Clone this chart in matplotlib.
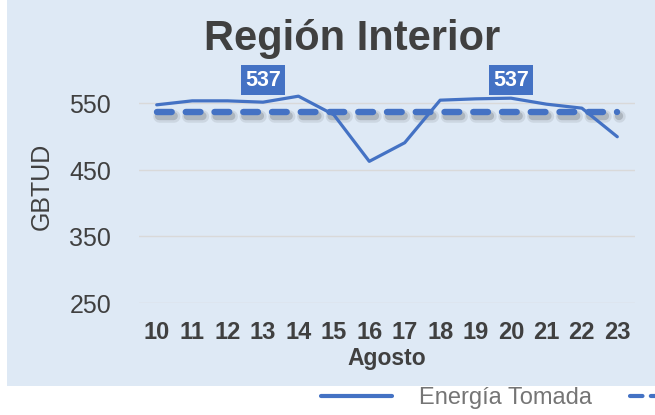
import matplotlib
matplotlib.use("Agg")
import matplotlib.pyplot as plt
import matplotlib.patheffects as pe
from matplotlib.patches import Rectangle
from matplotlib.lines import Line2D

plt.rcParams['font.family'] = ['Liberation Sans', 'DejaVu Sans']

# data
dias = [10, 11, 12, 13, 14, 15, 16, 17, 18, 19, 20, 21, 22, 23]
energia = [548, 554, 554, 552, 561, 533, 463, 491, 555, 557, 558, 549, 543, 500]
promedio = [537] * len(dias)
etiquetas_prom = [13, 20]  # days where the average gets a label

azul = "#4472c4"
gris = "#404040"

fig = plt.figure(figsize=(6.55, 4.15), dpi=100)
fig.patch.set_facecolor("white")
# light blue chart area (legend sits below it on white)
fig.patches.append(Rectangle((7 / 655, 29 / 415), 1, 1, transform=fig.transFigure,
                             facecolor="#dee9f5", edgecolor="none", zorder=-10))

ax = fig.add_axes([139 / 655, 112 / 415, 496 / 655, 266 / 415])
ax.set_facecolor("none")

l1, = ax.plot(dias, energia, color=azul, lw=2.3, solid_capstyle="round",
              label="Energía Tomada", zorder=3)
l2, = ax.plot(dias, promedio, color=azul, lw=4.6, dash_capstyle="round",
              label="Promedio", zorder=2)
l2.set_dashes([2.3, 2.2])
# soft shadow under the dashed average
l2.set_path_effects([
    pe.SimpleLineShadow(offset=(1.5, -3), shadow_color="k", alpha=0.08, linewidth=9),
    pe.SimpleLineShadow(offset=(1.5, -2.5), shadow_color="k", alpha=0.15, linewidth=6),
    pe.Normal()])

for d in etiquetas_prom:
    v = promedio[dias.index(d)]
    ax.annotate(str(v), (d, v), xytext=(0, 23), textcoords="offset points",
                ha="center", va="center", color="white", fontsize=15.5,
                fontweight="bold",
                bbox=dict(boxstyle="square,pad=0.2", fc=azul, ec="none"))

ax.set_xlim(9.5, 23.5)
ax.set_ylim(250, 650)
ax.set_yticks([250, 350, 450, 550])
ax.set_xticks(dias)
ax.grid(axis="y", color="#d9d9d9", lw=1)
ax.set_axisbelow(True)
for s in ax.spines.values():
    s.set_visible(False)
ax.tick_params(length=0)
ax.tick_params(axis="y", labelsize=18, labelcolor=gris, pad=20)
ax.tick_params(axis="x", labelsize=17, labelcolor=gris, pad=13)
for t in ax.get_xticklabels():
    t.set_fontweight("bold")

ax.set_xlabel("Agosto", fontsize=16.5, fontweight="bold", color=gris, labelpad=2)
ax.set_ylabel("GBTUD", fontsize=18, color=gris)
ax.yaxis.set_label_coords(-0.172, 0.44)

fig.text(352 / 655, 1 - 39 / 415, "Región Interior", ha="center", va="center",
         fontsize=30, fontweight="bold", color=gris)

h1 = Line2D([], [], color=azul, lw=3, solid_capstyle="round")
h2 = Line2D([], [], color=azul, lw=3, dash_capstyle="round", dashes=[3, 2])
fig.legend(handles=[h1, h2], labels=["Energía Tomada", ""], ncol=2,
           loc="center left", bbox_to_anchor=(321 / 655, 1 - 398 / 415),
           frameon=False, fontsize=17, labelcolor="#757575",
           handlelength=3.0, handletextpad=1.15, columnspacing=1.6,
           borderpad=0, borderaxespad=0)

fig.savefig("out.png", dpi=100)
